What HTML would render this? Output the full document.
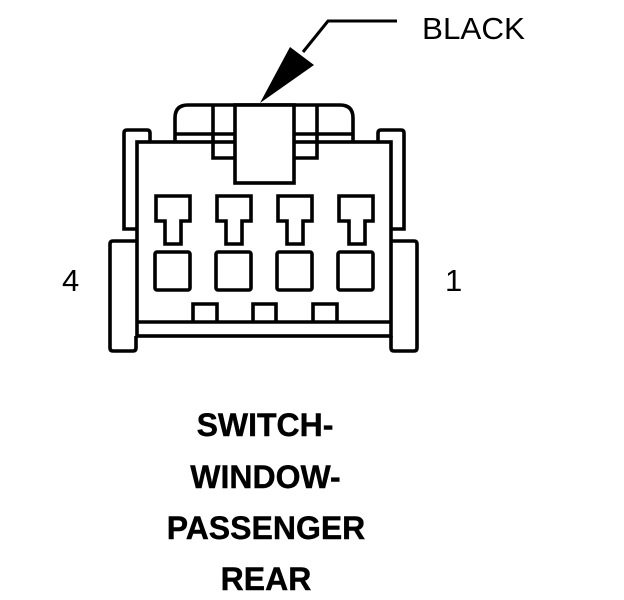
<!DOCTYPE html>
<html><head><meta charset="utf-8"><style>
html,body{margin:0;padding:0;background:#fff}
svg{display:block}
text{font-family:"Liberation Sans",Arial,sans-serif;fill:#000}
.b{font-weight:bold;font-size:32px;text-anchor:middle;stroke:#000;stroke-width:.4}
</style></head><body>
<svg width="624" height="600" viewBox="0 0 624 600" xmlns="http://www.w3.org/2000/svg">
<g fill="none" stroke="#000" stroke-width="3.6">
<path d="M397 21H328L303 52" stroke-width="3"/>
<path d="M137 229H124V133Q124 130 127 130H147Q150 130 150 133V142"/>
<path d="M391 229H404V133Q404 130 401 130H381Q378 130 378 133V142"/>
<path d="M175 142V118Q175 105 188 105H340Q353 105 353 118V142"/>
<path d="M137 241H113Q110 241 110 244V348Q110 351 113 351H133Q136 351 136 348V336"/>
<path d="M391 241H414Q417 241 417 244V348Q417 351 414 351H394Q391 351 391 348V336"/>
<rect x="137" y="142" width="254" height="194" fill="#fff"/>
<path d="M175 134H235M293 134H353"/>
<path d="M213 105V158H235M317 105V158H293"/>
<rect x="235" y="105" width="59" height="78" fill="#fff"/>
<path d="M137 322H391"/>
<path d="M156 196H190V221H181V244H165V221H156Z"/>
<path d="M217 196H251V221H242V244H226V221H217Z"/>
<path d="M278 196H312V221H303V244H287V221H278Z"/>
<path d="M339 196H373V221H365V244H349V221H339Z"/>
<rect x="155" y="252" width="35" height="38" rx="2"/>
<rect x="216" y="252" width="35" height="38" rx="2"/>
<rect x="277" y="252" width="35" height="38" rx="2"/>
<rect x="338" y="252" width="35" height="38" rx="2"/>
<path d="M193 322V304H217V322"/>
<path d="M253 322V304H276V322"/>
<path d="M313 322V304H337V322"/>
</g>
<path d="M260 103L290 47L314 65Z" fill="#000"/>
<text x="422" y="39" font-size="31" textLength="103" lengthAdjust="spacingAndGlyphs">BLACK</text>
<text x="62" y="291" font-size="31">4</text>
<text x="445" y="291" font-size="31">1</text>
<text class="b" x="265" y="436">SWITCH-</text>
<text class="b" x="265.500" y="488">WINDOW-</text>
<text class="b" x="266" y="539">PASSENGER</text>
<text class="b" x="266" y="590">REAR</text>
</svg>
</body></html>
